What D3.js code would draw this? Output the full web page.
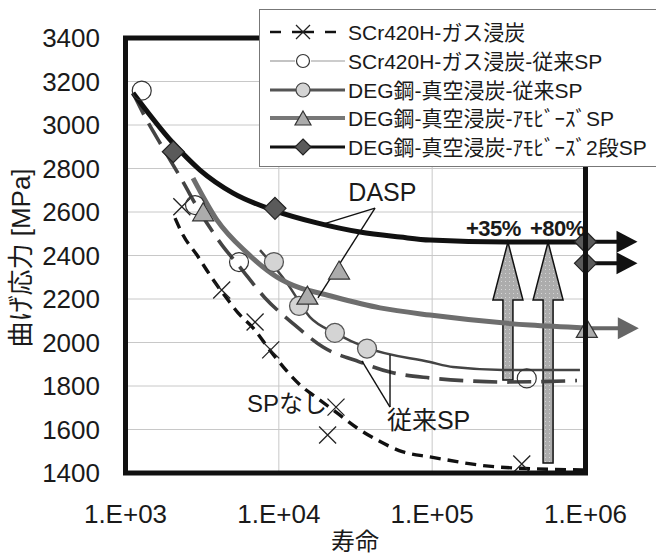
<!DOCTYPE html>
<html>
<head>
<meta charset="utf-8">
<script src="https://cdn.jsdelivr.net/npm/d3@7"></script>
<style>
body { margin: 0; background: #fff; }
text { font-family: "Liberation Sans", Arial, "Noto Sans CJK JP", sans-serif; fill: #1a1a1a; }
</style>
</head>
<body>
<div id="chart"></div>
<script>
// axis ticks
var xTicks = [1e3, 1e4, 1e5, 1e6]
var xTickLabels = ['1.E+03', '1.E+04', '1.E+05', '1.E+06']
var yTicks = [1400, 1600, 1800, 2000, 2200, 2400, 2600, 2800, 3000, 3200, 3400]

var legendNames = ['SCr420H-ガス浸炭', 'SCr420H-ガス浸炭-従来SP', 'DEG鋼-真空浸炭-従来SP',
  'DEG鋼-真空浸炭-ｱﾓﾋﾞｰｽﾞSP', 'DEG鋼-真空浸炭-ｱﾓﾋﾞｰｽﾞ2段SP']

// measured points [cycles, MPa]
var scrGas = [[2330, 2624], [4240, 2241], [7000, 2094], [8850, 1966], [23600, 1703], [20800, 1575], [384000, 1441]]
var scrGasSP = [[1276, 3158], [2840, 2632], [5500, 2370], [414000, 1835]]
var degSP = [[9290, 2370], [13550, 2168], [23200, 2044], [37600, 1972]]
var degAmo = [[3210, 2601], [15350, 2218], [24700, 2333], [1.02e6, 2065]]
var degAmo2 = [[2050, 2877], [9440, 2617], [1e6, 2463], [1e6, 2364]]

// run-outs (arrows to the right)
var runouts = [[1e6, 2463], [1e6, 2364], [1.02e6, 2065]]

// trend curves
var fitScrGas = [[2104, 2572], [2372, 2494], [2926, 2402], [3556, 2310], [4663, 2195], [5420, 2136], [6790, 2067],
  [9020, 1952], [13740, 1805], [17740, 1745], [23600, 1680], [32400, 1607], [43700, 1552], [64600, 1497],
  [96800, 1474], [265000, 1428], [964000, 1414]]
var fitScrSP = [[1120, 3147], [1341, 3037], [1757, 2894], [2335, 2747], [3061, 2600], [4260, 2448], [5500, 2352],
  [8130, 2205], [12740, 2080], [19400, 1979], [33800, 1910], [53100, 1864], [96800, 1837], [176600, 1823],
  [298500, 1818], [880000, 1825]]
var fitDegSP = [[7540, 2425], [11300, 2274], [15950, 2117], [23200, 2044], [37600, 1975], [96800, 1910],
  [136800, 1887], [290000, 1874], [920000, 1874]]
var fitAmo = [[2756, 2756], [3953, 2563], [6200, 2412], [9730, 2301], [13740, 2251], [19400, 2223], [45700, 2159],
  [96800, 2126], [435000, 2080], [1e6, 2067]]
var fitAmo2 = [[1120, 3147], [2040, 2917], [3060, 2793], [5030, 2687], [9160, 2609], [17700, 2550], [33800, 2508],
  [61700, 2485], [96800, 2471], [307000, 2462], [1e6, 2462]]

// improvement arrows [cycles, from, to]
var upArrows = [[312000, 1828, 2462], [570000, 1446, 2462]]

var width = 656, height = 556
var pLeft = 125.5, pRight = 585.5, pTop = 38, pBottom = 473

var x = d3.scaleLog().domain([1e3, 1e6]).range([pLeft, pRight])
var y = d3.scaleLinear().domain([1400, 3400]).range([pBottom, pTop])

var svg = d3.select('#chart').append('svg').attr('width', width).attr('height', height)

var defs = svg.append('defs')
var pat = defs.append('pattern').attr('id', 'dots').attr('width', 4).attr('height', 4).attr('patternUnits', 'userSpaceOnUse')
pat.append('rect').attr('width', 4).attr('height', 4).attr('fill', '#acacac')
pat.append('rect').attr('x', 1).attr('y', 1).attr('width', 1).attr('height', 1).attr('fill', '#d6d6d6')

// grid
svg.append('g').selectAll('line').data(yTicks.slice(1, -1)).join('line')
  .attr('x1', pLeft).attr('x2', pRight).attr('y1', d => y(d)).attr('y2', d => y(d))
  .attr('stroke', '#c8c8c8').attr('stroke-width', 1)
svg.append('g').selectAll('line').data(xTicks.slice(1, -1)).join('line')
  .attr('x1', d => x(d)).attr('x2', d => x(d)).attr('y1', pTop).attr('y2', pBottom)
  .attr('stroke', '#c8c8c8').attr('stroke-width', 1)

// tick labels
svg.append('g').selectAll('text').data(yTicks).join('text')
  .attr('x', 100).attr('y', d => y(d)).attr('dy', '0.35em').attr('text-anchor', 'end')
  .attr('font-size', 26).text(d => d)
svg.append('g').selectAll('text').data(xTicks).join('text')
  .attr('x', d => x(d)).attr('y', 523).attr('text-anchor', 'middle')
  .attr('font-size', 26).text((d, i) => xTickLabels[i])

svg.append('text').attr('x', 355).attr('y', 550).attr('text-anchor', 'middle').attr('font-size', 24).text('寿命')
svg.append('text').attr('transform', 'translate(30,258) rotate(-90)').attr('text-anchor', 'middle')
  .attr('font-size', 26).text('曲げ応力 [MPa]')

// block arrows
function blockArrow(d) {
  var cx = x(d[0]), yb = y(d[1]), yt = y(d[2])
  return 'M' + (cx - 5) + ',' + yb + 'L' + (cx - 5) + ',' + (yt + 58) + 'L' + (cx - 15) + ',' + (yt + 58) +
    'L' + cx + ',' + yt + 'L' + (cx + 15) + ',' + (yt + 58) + 'L' + (cx + 5) + ',' + (yt + 58) +
    'L' + (cx + 5) + ',' + yb + 'Z'
}
svg.append('g').selectAll('path').data(upArrows).join('path')
  .attr('d', blockArrow).attr('fill', 'url(#dots)').attr('stroke', '#111').attr('stroke-width', 1.5)

// curves
var line = d3.line().x(d => x(d[0])).y(d => y(d[1])).curve(d3.curveMonotoneX)
var g = svg.append('g').attr('fill', 'none')
g.append('path').attr('d', line(fitScrGas)).attr('stroke', '#111').attr('stroke-width', 3.4).attr('stroke-dasharray', '11,7')
g.append('path').attr('d', line(fitScrSP)).attr('stroke', '#444').attr('stroke-width', 3.6).attr('stroke-dasharray', '24,10')
g.append('path').attr('d', line(fitDegSP)).attr('stroke', '#444').attr('stroke-width', 2.5)
g.append('path').attr('d', line(fitAmo)).attr('stroke', '#6e6e6e').attr('stroke-width', 5)
g.append('path').attr('d', line(fitAmo2)).attr('stroke', '#111').attr('stroke-width', 5)

// leader lines
var leaders = [
  [[42400, 2618], [18500, 2540]], [[42400, 2618], [18000, 2205]],
  [[53100, 1703], [34800, 1915]], [[53100, 1703], [53100, 1943]]
]
svg.append('g').selectAll('line').data(leaders).join('line')
  .attr('x1', d => x(d[0][0])).attr('y1', d => y(d[0][1]))
  .attr('x2', d => x(d[1][0])).attr('y2', d => y(d[1][1]))
  .attr('stroke', '#111').attr('stroke-width', 1.4)

// run-out arrows
var runColors = ['#111', '#111', '#666']
var ra = svg.append('g')
runouts.forEach(function (d, i) {
  var px = x(d[0]), py = y(d[1])
  ra.append('line').attr('x1', px).attr('x2', px + 34).attr('y1', py).attr('y2', py)
    .attr('stroke', runColors[i]).attr('stroke-width', 4)
  ra.append('path').attr('d', 'M' + (px + 31) + ',' + (py - 11) + 'L' + (px + 52) + ',' + py + 'L' + (px + 31) + ',' + (py + 11) + 'Z')
    .attr('fill', runColors[i])
})

// markers
function xMark(sel, s) {
  sel.attr('d', 'M' + (-s) + ',' + (-s) + 'L' + s + ',' + s + 'M' + (-s) + ',' + s + 'L' + s + ',' + (-s))
}
function triMark(w, h) { return 'M0,' + (-h / 2) + 'L' + (w / 2) + ',' + (h / 2) + 'L' + (-w / 2) + ',' + (h / 2) + 'Z' }
function diaMark(s) { return 'M0,' + (-s) + 'L' + s + ',0L0,' + s + 'L' + (-s) + ',0Z' }

var m = svg.append('g')
m.append('g').selectAll('path').data(scrGas).join('path')
  .attr('transform', d => 'translate(' + x(d[0]) + ',' + y(d[1]) + ')')
  .call(xMark, 8.5).attr('stroke', '#222').attr('stroke-width', 1.3).attr('fill', 'none')
m.append('g').selectAll('circle').data(scrGasSP).join('circle')
  .attr('cx', d => x(d[0])).attr('cy', d => y(d[1])).attr('r', 9.5)
  .attr('fill', 'none').attr('stroke', '#333').attr('stroke-width', 1.2)
m.append('g').selectAll('circle').data(degSP).join('circle')
  .attr('cx', d => x(d[0])).attr('cy', d => y(d[1])).attr('r', 9.5)
  .attr('fill', '#d4d4d4').attr('stroke', '#555').attr('stroke-width', 1.3)
m.append('g').selectAll('path').data(degAmo).join('path')
  .attr('transform', d => 'translate(' + x(d[0]) + ',' + y(d[1]) + ')')
  .attr('d', triMark(21, 18)).attr('fill', '#acacac').attr('stroke', '#333').attr('stroke-width', 1.2)
m.append('g').selectAll('path').data(degAmo2).join('path')
  .attr('transform', d => 'translate(' + x(d[0]) + ',' + y(d[1]) + ')')
  .attr('d', diaMark(11)).attr('fill', '#5a5a5a').attr('stroke', '#222').attr('stroke-width', 1.2)

// annotations
var notes = [
  {t: 'DASP', p: [28400, 2651], size: 25, w: 'normal'},
  {t: '従来SP', p: [50700, 1602], size: 25, w: 'normal'},
  {t: 'SPなし', p: [6200, 1680], size: 24, w: 'normal'},
  {t: '+35%', p: [166000, 2490], size: 22, w: 'bold'},
  {t: '+80%', p: [434000, 2490], size: 22, w: 'bold'}
]
svg.append('g').selectAll('text').data(notes).join('text')
  .attr('x', d => x(d.p[0])).attr('y', d => y(d.p[1]))
  .attr('font-size', d => d.size).attr('font-weight', d => d.w).attr('letter-spacing', d => d.w == 'bold' ? -0.5 : 0)
  .text(d => d.t)

// frame
svg.append('rect').attr('x', pLeft).attr('y', pTop).attr('width', pRight - pLeft).attr('height', pBottom - pTop)
  .attr('fill', 'none').attr('stroke', '#111').attr('stroke-width', 5)

// legend
var lg = svg.append('g')
lg.append('rect').attr('x', 259.5).attr('y', 9.5).attr('width', 420).attr('height', 157)
  .attr('fill', '#fff').attr('stroke', '#777').attr('stroke-width', 1)
var rowY = [32, 61, 90, 118, 147]
var lx = 303

// row 1
;[[270, 281], [292, 314], [325, 336]].forEach(function (s) {
  lg.append('line').attr('x1', s[0]).attr('x2', s[1]).attr('y1', rowY[0]).attr('y2', rowY[0])
    .attr('stroke', '#111').attr('stroke-width', 2.5)
})
lg.append('path').attr('transform', 'translate(' + lx + ',' + rowY[0] + ')').call(xMark, 7)
  .attr('stroke', '#222').attr('stroke-width', 1.3).attr('fill', 'none')
// row 2
;[[270, 295], [311, 345]].forEach(function (s) {
  lg.append('line').attr('x1', s[0]).attr('x2', s[1]).attr('y1', rowY[1]).attr('y2', rowY[1])
    .attr('stroke', '#9a9a9a').attr('stroke-width', 1.2)
})
lg.append('circle').attr('cx', lx).attr('cy', rowY[1]).attr('r', 6.5).attr('fill', '#fff').attr('stroke', '#333').attr('stroke-width', 1.2)
// row 3
lg.append('line').attr('x1', 270).attr('x2', 345).attr('y1', rowY[2]).attr('y2', rowY[2]).attr('stroke', '#555').attr('stroke-width', 3)
lg.append('circle').attr('cx', lx).attr('cy', rowY[2]).attr('r', 7).attr('fill', '#d4d4d4').attr('stroke', '#444').attr('stroke-width', 1.2)
// row 4
lg.append('line').attr('x1', 270).attr('x2', 345).attr('y1', rowY[3]).attr('y2', rowY[3]).attr('stroke', '#777').attr('stroke-width', 4)
lg.append('path').attr('transform', 'translate(' + lx + ',' + rowY[3] + ')').attr('d', triMark(16, 14))
  .attr('fill', '#acacac').attr('stroke', '#333').attr('stroke-width', 1.2)
// row 5
lg.append('line').attr('x1', 270).attr('x2', 345).attr('y1', rowY[4]).attr('y2', rowY[4]).attr('stroke', '#111').attr('stroke-width', 3)
lg.append('path').attr('transform', 'translate(' + lx + ',' + rowY[4] + ')').attr('d', diaMark(8))
  .attr('fill', '#5a5a5a').attr('stroke', '#222').attr('stroke-width', 1.2)

lg.selectAll('text.ln').data(legendNames).join('text').attr('class', 'ln')
  .attr('x', 348).attr('y', (d, i) => rowY[i]).attr('dy', '0.36em').attr('font-size', 21).text(d => d)
</script>
</body>
</html>
